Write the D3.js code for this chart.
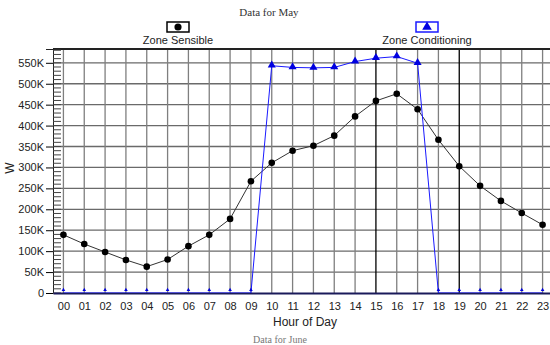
<!DOCTYPE html>
<html>
<head>
<meta charset="utf-8">
<script src="https://cdn.jsdelivr.net/npm/d3@7"></script>
<style>
  body { margin: 0; background: #fff; }
  text { font-family: "Liberation Sans", Arial, sans-serif; }
</style>
</head>
<body>
<svg width="550" height="345"></svg>
<script>
// data
const hours = ["00","01","02","03","04","05","06","07","08","09","10","11",
               "12","13","14","15","16","17","18","19","20","21","22","23"];
const zoneSensible = [139, 117, 98, 79, 63, 80, 112, 139, 177, 267, 311, 340,
                      352, 376, 422, 459, 476, 439, 366, 303, 256, 220, 191, 163].map(v => v * 1000);
const zoneConditioning = [0, 0, 0, 0, 0, 0, 0, 0, 0, 0, 543, 539,
                          538, 539, 553, 561, 565, 549, 0, 0, 0, 0, 0, 0].map(v => v * 1000);
const yTicks = [0, 50000, 100000, 150000, 200000, 250000, 300000, 350000, 400000, 450000, 500000, 550000];

const svg = d3.select("svg");
const width = +svg.attr("width");
const height = +svg.attr("height");

const plotLeft = 53, plotTop = 49, plotBottom = 293;

const x = d3.scaleLinear().domain([-0.5, 23.5]).range([plotLeft, 553]);
const y = d3.scaleLinear().domain([0, 583000]).range([plotBottom, plotTop]);

svg.append("clipPath").attr("id", "clip")
  .append("rect").attr("x", plotLeft).attr("y", plotTop)
  .attr("width", width - plotLeft).attr("height", plotBottom - plotTop);
// markers sitting on zero are mostly hidden by the axis
svg.append("clipPath").attr("id", "clipMarks")
  .append("rect").attr("x", plotLeft).attr("y", plotTop)
  .attr("width", width - plotLeft).attr("height", plotBottom - plotTop - 2);

// title
svg.append("text")
  .attr("x", 269).attr("y", 16)
  .attr("text-anchor", "middle")
  .style("font-family", "'Liberation Serif', 'Times New Roman', serif")
  .style("font-size", "11px")
  .attr("fill", "#333")
  .text("Data for May");

// grid
const grid = svg.append("g");
grid.selectAll("line.h").data(yTicks.slice(1)).join("line")
  .attr("x1", plotLeft).attr("x2", width)
  .attr("y1", d => y(d)).attr("y2", d => y(d))
  .attr("stroke", "#6a6a6a").attr("stroke-width", 1.3);
grid.selectAll("line.v").data(hours).join("line")
  .attr("x1", (d, i) => x(i)).attr("x2", (d, i) => x(i))
  .attr("y1", plotTop).attr("y2", plotBottom)
  .attr("stroke", (d, i) => (i === 15 || i === 19) ? "#000" : "#7f7f7f")
  .attr("stroke-width", 1.3);

// top border
svg.append("line")
  .attr("x1", plotLeft).attr("x2", width).attr("y1", plotTop).attr("y2", plotTop)
  .attr("stroke", "#222").attr("stroke-width", 2);

// y axis
const yAxis = svg.append("g")
  .attr("transform", `translate(${plotLeft},0)`)
  .call(d3.axisLeft(y).tickValues(yTicks).tickSize(7).tickPadding(2)
    .tickFormat(d => d === 0 ? "0" : (d / 1000) + "K"));
yAxis.select(".domain").attr("stroke", "#222");
yAxis.selectAll("text").style("font-size", "11px").attr("fill", "#222");

// minor ticks
svg.append("g").selectAll("line").data(d3.range(0, 580001, 10000)).join("line")
  .attr("x1", plotLeft).attr("x2", plotLeft + 8)
  .attr("y1", d => y(d)).attr("y2", d => y(d))
  .attr("stroke", "#444").attr("stroke-width", 1);

// x axis
const xAxis = svg.append("g")
  .attr("transform", `translate(0,${plotBottom})`)
  .call(d3.axisBottom(x).tickValues(d3.range(24)).tickSize(0).tickPadding(9)
    .tickFormat(i => hours[i]));
xAxis.select(".domain").attr("stroke", "#1a1a5a").attr("stroke-width", 2);
xAxis.selectAll("text").style("font-size", "11px").attr("fill", "#222");

// axis titles
svg.append("text")
  .attr("transform", "translate(14,168) rotate(-90)")
  .attr("text-anchor", "middle")
  .style("font-size", "12px").attr("fill", "#222")
  .text("W");
svg.append("text")
  .attr("x", 305).attr("y", 326)
  .attr("text-anchor", "middle")
  .style("font-size", "12px").attr("fill", "#222")
  .text("Hour of Day");

// series
const plot = svg.append("g").attr("clip-path", "url(#clip)");
const marks = svg.append("g").attr("clip-path", "url(#clipMarks)");
const line = d3.line().x((d, i) => x(i)).y(d => y(d));

plot.append("path").datum(zoneSensible)
  .attr("fill", "none").attr("stroke", "#333").attr("stroke-width", 1)
  .attr("d", line);
plot.selectAll("circle").data(zoneSensible).join("circle")
  .attr("cx", (d, i) => x(i)).attr("cy", d => y(d)).attr("r", 3.3)
  .attr("fill", "#000");

plot.append("path").datum(zoneConditioning)
  .attr("fill", "none").attr("stroke", "#1a1aff").attr("stroke-width", 1)
  .attr("d", line);
const tri = d3.symbol().type(d3.symbolTriangle).size(28);
marks.selectAll("path.tri").data(zoneConditioning).join("path")
  .attr("class", "tri")
  .attr("transform", (d, i) => `translate(${x(i)},${y(d) - 0.5})`)
  .attr("d", tri)
  .attr("fill", "#0000e0");

// legend
const legend = [
  { name: "Zone Sensible", cx: 178, color: "#000", box: "#000", sym: d3.symbolCircle, size: 40 },
  { name: "Zone Conditioning", cx: 427, color: "#0000e0", box: "#1a1aff", sym: d3.symbolTriangle, size: 40 }
];
const lg = svg.append("g").selectAll("g").data(legend).join("g");
lg.append("rect")
  .attr("x", d => d.cx - 11).attr("y", 22).attr("width", 22).attr("height", 10)
  .attr("fill", "#fff").attr("stroke", d => d.box).attr("stroke-width", 1.5);
lg.append("path")
  .attr("transform", d => `translate(${d.cx},27)`)
  .attr("d", d => d3.symbol().type(d.sym).size(d.size)())
  .attr("fill", d => d.color);
lg.append("text")
  .attr("x", d => d.cx).attr("y", 44)
  .attr("text-anchor", "middle")
  .style("font-size", "11px").attr("fill", "#222")
  .text(d => d.name);

// next chart title at the very bottom
svg.append("text")
  .attr("x", 280).attr("y", 343)
  .attr("text-anchor", "middle")
  .style("font-family", "'Liberation Serif', 'Times New Roman', serif")
  .style("font-size", "10px")
  .attr("fill", "#777")
  .text("Data for June");
</script>
</body>
</html>
